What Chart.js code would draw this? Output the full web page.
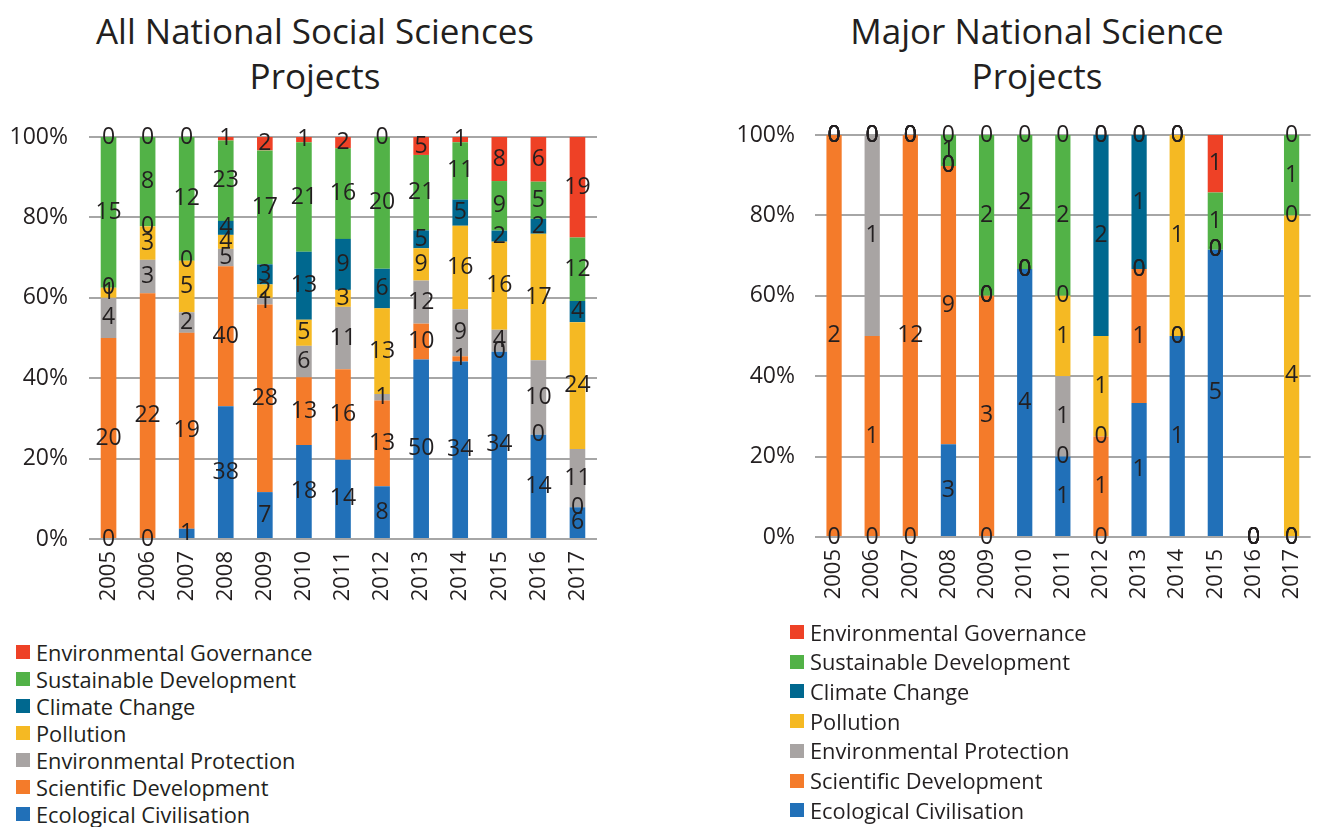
<!DOCTYPE html>
<html>
<head>
<meta charset="utf-8">
<script src="https://cdn.jsdelivr.net/npm/chart.js@4/dist/chart.umd.min.js"></script>
<style>
  body { margin:0; width:1322px; height:827px; background:#fff; position:relative; overflow:hidden; font-family:"Open Sans", sans-serif; color:#231f20; }
  .title { position:absolute; top:8px; text-align:center; font-size:35px; line-height:45px; }
  canvas { position:absolute; }
  .legend { position:absolute; font-size:21.8px; }
  .legend div { position:absolute; white-space:nowrap; display:flex; align-items:center; }
  .legend span.sw { display:inline-block; width:14px; height:14px; margin-right:6px; }
</style>
</head>
<body>
<div class="title" id="t1" style="left:0;width:630px">All National Social Sciences<br>Projects</div>
<div class="title" id="t2" style="left:752px;width:570px">Major National Science<br>Projects</div>
<canvas id="social" width="620" height="520" style="left:0;top:100px;width:620px;height:520px"></canvas>
<canvas id="major" width="622" height="520" style="left:700px;top:100px;width:622px;height:520px"></canvas>
<div class="legend" id="legSocial" style="left:16px;top:0"></div>
<div class="legend" id="legMajor" style="left:790px;top:0"></div>
<script>
const years = ['2005','2006','2007','2008','2009','2010','2011','2012','2013','2014','2015','2016','2017'];
// bottom to top of each stack
const seriesNames = ['Ecological Civilisation','Scientific Development','Environmental Protection','Pollution','Climate Change','Sustainable Development','Environmental Governance'];
const seriesColors = ['#2170b8','#f47b2a','#a8a4a3','#f5b923','#00688f','#52b247','#ee4126'];

// All National Social Sciences Projects (counts)
const socialEco  = [0,0,1,38,7,18,14,8,50,34,34,14,6];
const socialSci  = [20,22,19,40,28,13,16,13,10,1,0,0,0];
const socialProt = [4,3,2,5,1,6,11,1,12,9,4,10,11];
const socialPoll = [1,3,5,4,2,5,3,13,9,16,16,17,24];
const socialClim = [0,0,0,4,3,13,9,6,5,5,2,2,4];
const socialSust = [15,8,12,23,17,21,16,20,21,11,9,5,12];
const socialGov  = [0,0,0,1,2,1,2,0,5,1,8,6,19];

// Major National Science Projects (counts)
const majorEco  = [0,0,0,3,0,4,1,0,1,1,5,0,0];
const majorSci  = [2,1,12,9,3,0,0,1,1,0,0,0,0];
const majorProt = [0,1,0,0,0,0,1,0,0,0,0,0,0];
const majorPoll = [0,0,0,0,0,0,1,1,0,1,0,0,4];
const majorClim = [0,0,0,0,0,0,0,2,1,0,0,0,0];
const majorSust = [0,0,0,1,2,2,2,0,0,0,1,0,1];
const majorGov  = [0,0,0,0,0,0,0,0,0,0,1,0,0];

const socialSeries = [socialEco, socialSci, socialProt, socialPoll, socialClim, socialSust, socialGov];
const majorSeries  = [majorEco, majorSci, majorProt, majorPoll, majorClim, majorSust, majorGov];

const FONT = '"Open Sans", sans-serif';
const INK = '#231f20';
const GRID = '#a6a6a6';

// counts -> share of year total, labels keep the counts
function toPct(series){
  const totals = years.map((_,j)=> series.reduce((a,s)=>a+s[j],0));
  return series.map(s => s.map((v,j)=> totals[j] ? v/totals[j]*100 : 0));
}

const barLabels = {
  id: 'barLabels',
  afterDatasetsDraw(chart){
    const ctx = chart.ctx;
    ctx.save();
    ctx.font = '23px ' + FONT;
    ctx.fillStyle = INK;
    ctx.textAlign = 'center';
    ctx.textBaseline = 'middle';
    chart.data.datasets.forEach((ds,i)=>{
      chart.getDatasetMeta(i).data.forEach((bar,j)=>{
        ctx.fillText(String(ds.counts[j]), bar.x, (bar.y + bar.base)/2);
      });
    });
    ctx.restore();
  }
};

function makeChart(id, series, box){
  const pct = toPct(series);
  return new Chart(document.getElementById(id), {
    type: 'bar',
    data: {
      labels: years,
      datasets: series.map((s,i)=>({
        label: seriesNames[i], data: pct[i], counts: s,
        backgroundColor: seriesColors[i], borderWidth: 0,
        barPercentage: 0.4, categoryPercentage: 1
      }))
    },
    options: {
      responsive: false, animation: false,
      layout: { padding: { top: box.top, right: box.right, left: 0, bottom: 0 } },
      plugins: { legend: { display: false }, tooltip: { enabled: false } },
      scales: {
        x: {
          stacked: true,
          grid: { display: false },
          border: { display: false },
          ticks: { color: INK, font: { family: FONT, size: 22 }, minRotation: 90, maxRotation: 90, padding: 4, autoSkip: false },
          afterFit: s => { s.height = box.xh; }
        },
        y: {
          stacked: true, min: 0, max: 100,
          grid: { color: GRID, lineWidth: 2, drawTicks: false },
          border: { display: false },
          ticks: { stepSize: 20, color: INK, font: { family: FONT, size: 23 }, padding: box.tickPad, callback: v => v + '%' },
          afterFit: s => { s.width = box.yw; }
        }
      }
    },
    plugins: [barLabels]
  });
}

function buildLegend(id, top, step){
  const el = document.getElementById(id);
  const order = seriesNames.map((n,i)=>i).reverse();
  order.forEach((i,k)=>{
    const d = document.createElement('div');
    d.style.top = (top + k*step - 15) + 'px';
    d.style.height = '30px';
    d.innerHTML = `<span class="sw" style="background:${seriesColors[i]}"></span>${seriesNames[i]}`;
    el.appendChild(d);
  });
}

makeChart('social', socialSeries, { top: 37, right: 23, xh: 81, yw: 89, tickPad: 21 });
makeChart('major', majorSeries, { top: 35, right: 0, xh: 83, yw: 115, tickPad: 20 });
buildLegend('legSocial', 652, 27);
buildLegend('legMajor', 632, 29.7);
</script>
</body>
</html>
